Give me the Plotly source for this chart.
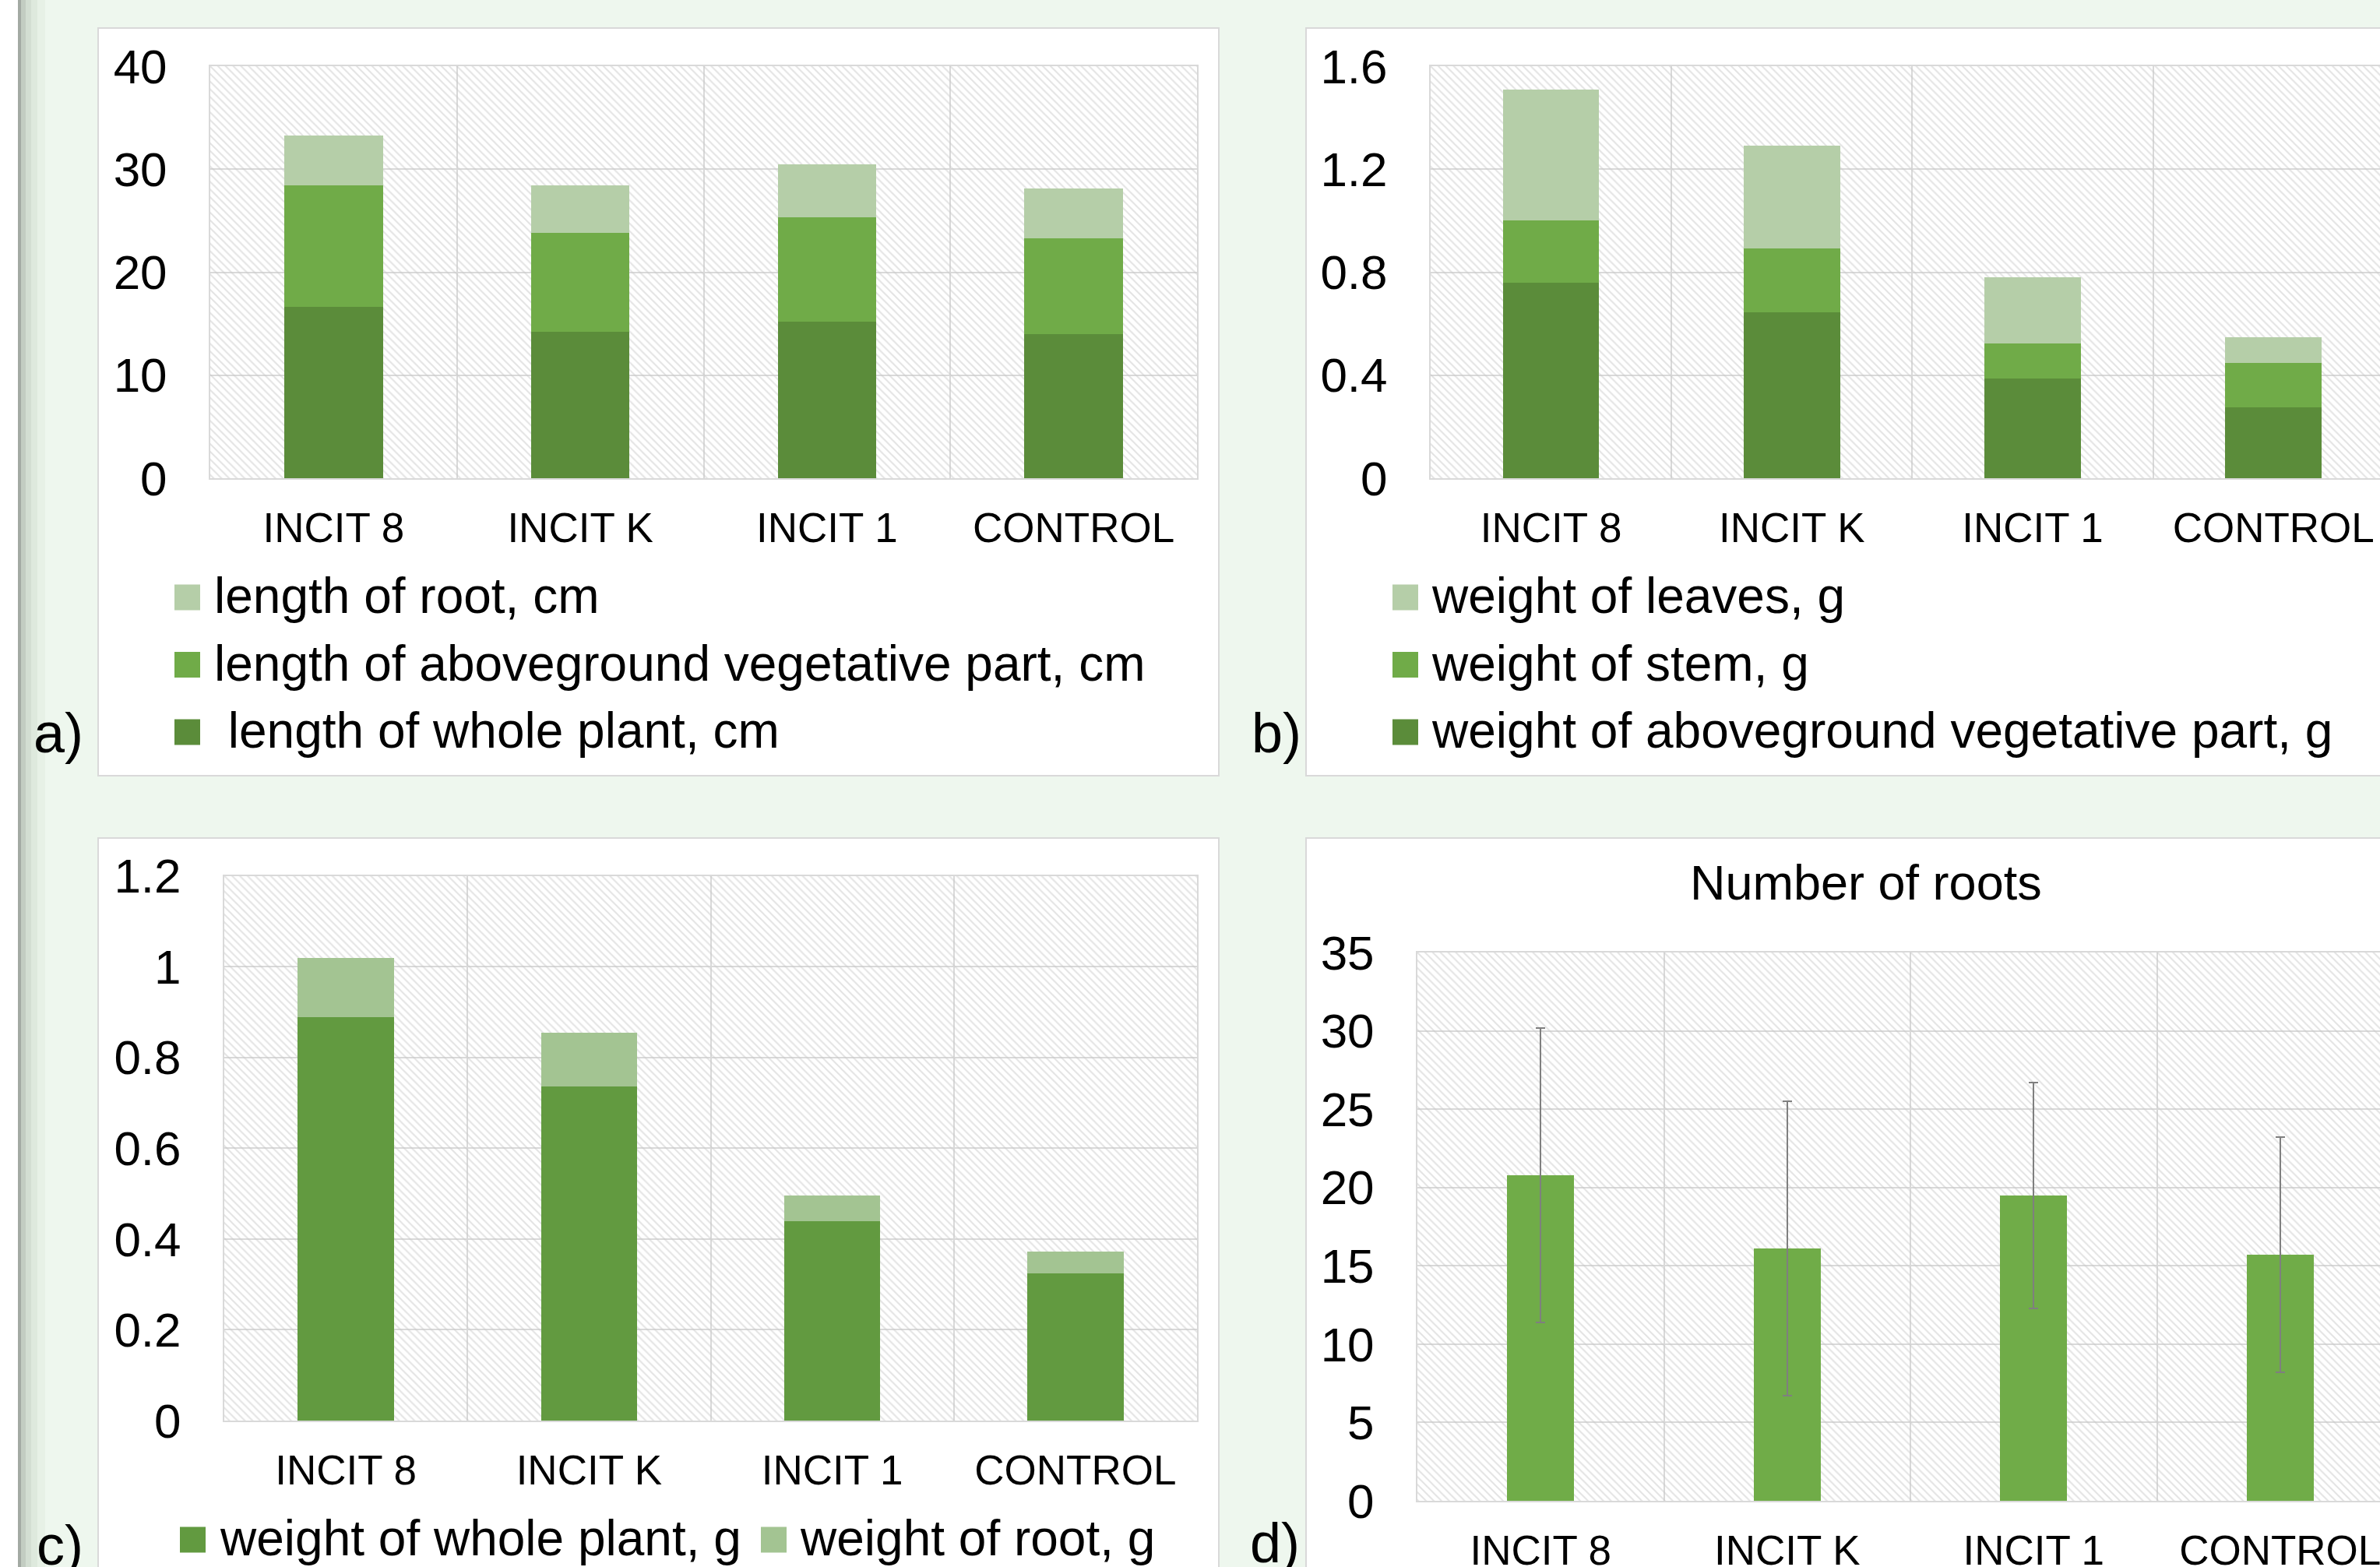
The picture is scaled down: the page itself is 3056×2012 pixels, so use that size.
import plotly.graph_objects as go

W, H = 3056, 2012
FONT = "Liberation Sans, Arial, sans-serif"

# ---------------- data ----------------
categories = ["INCIT 8", "INCIT K", "INCIT 1", "CONTROL"]

# panel a) lengths, cm (stacked segments)
a_whole_plant = [16.6, 14.2, 15.2, 14.0]
a_aboveground = [11.8, 9.6, 10.1, 9.3]
a_root = [4.9, 4.6, 5.2, 4.8]
a_ytick_vals = [0, 10, 20, 30, 40]
a_ytick_text = ["0", "10", "20", "30", "40"]

# panel b) weights, g (stacked segments)
b_aboveground = [0.758, 0.644, 0.388, 0.274]
b_stem = [0.242, 0.249, 0.135, 0.174]
b_leaves = [0.510, 0.398, 0.256, 0.099]
b_ytick_vals = [0, 0.4, 0.8, 1.2, 1.6]
b_ytick_text = ["0", "0.4", "0.8", "1.2", "1.6"]

# panel c) weights, g (stacked segments)
c_whole_plant = [0.888, 0.736, 0.439, 0.324]
c_root = [0.131, 0.119, 0.056, 0.049]
c_ytick_vals = [0, 0.2, 0.4, 0.6, 0.8, 1.0, 1.2]
c_ytick_text = ["0", "0.2", "0.4", "0.6", "0.8", "1", "1.2"]

# panel d) number of roots, mean +/- error
d_roots = [20.8, 16.1, 19.5, 15.7]
d_error = [9.4, 9.4, 7.2, 7.5]
d_ytick_vals = [0, 5, 10, 15, 20, 25, 30, 35]
d_ytick_text = ["0", "5", "10", "15", "20", "25", "30", "35"]

# legend / text labels
a_names = ["\u00a0length of whole plant, cm", "length of aboveground vegetative part, cm", "length of root, cm"]
b_names = ["weight of aboveground vegetative part, g", "weight of stem, g", "weight of leaves, g"]
c_names = ["weight of whole plant, g", "weight of root, g"]
d_title = "Number of roots"
panel_labels = ["a)", "b)", "c)", "d)"]

# ---------------- styles ----------------
DARK = "#5B8C3A"
MID = "#70AB48"
LIGHT = "#B5CEA8"
C_DARK = "#629A40"
C_LIGHT = "#A3C492"
D_COL = "#70AC48"
GRID = "#D9D9D9"
BG = "#EEF7EE"


def fx(p):
    return p / W


def fy(p):
    return 1 - p / H


# plot areas in pixels: (left, top, right, bottom), x-range end
plots = {
    "a": dict(box=(270, 85, 1537, 614), xend=3.5, mirror=True),
    "b": dict(box=(1837, 85, 3056, 614), xend=-0.5 + (3056 - 1837) / 309.2, mirror=False),
    "c": dict(box=(288, 1124.5, 1537, 1824), xend=3.5, mirror=True),
    "d": dict(box=(1820, 1223, 3056, 1927), xend=-0.5 + (3056 - 1820) / 316.5, mirror=False),
}
yranges = {"a": (a_ytick_vals, a_ytick_text), "b": (b_ytick_vals, b_ytick_text),
           "c": (c_ytick_vals, c_ytick_text), "d": (d_ytick_vals, d_ytick_text)}

fig = go.Figure()
layout_axes = {}

for i, key in enumerate(["a", "b", "c", "d"]):
    l, t, r, b = plots[key]["box"]
    dom_x = [fx(l), min(1.0, fx(r))]
    dom_y = [fy(b), fy(t)]
    n_base = 2 * i + 1
    n_data = 2 * i + 2
    bx = "x" if n_base == 1 else f"x{n_base}"
    by = "y" if n_base == 1 else f"y{n_base}"
    dx, dy = f"x{n_data}", f"y{n_data}"
    # hatched plot-area background (decorative)
    fig.add_trace(go.Scatter(
        x=[0, 1, 1, 0, 0], y=[0, 0, 1, 1, 0], xaxis=bx, yaxis=by,
        mode="none", fill="toself", fillcolor="rgba(0,0,0,0)",
        fillpattern=dict(shape="\\", fgcolor="#C8C8C8", size=7, solidity=0.28),
        hoverinfo="skip", showlegend=False))
    base_x_name = "xaxis" if n_base == 1 else f"xaxis{n_base}"
    base_y_name = "yaxis" if n_base == 1 else f"yaxis{n_base}"
    layout_axes[base_x_name] = dict(domain=dom_x, range=[0, 1], visible=False, fixedrange=True,
                                    anchor=by, automargin=False)
    layout_axes[base_y_name] = dict(domain=dom_y, range=[0, 1], visible=False, fixedrange=True,
                                    anchor=bx, automargin=False)
    tv, tt = yranges[key]
    layout_axes[f"xaxis{n_data}"] = dict(
        overlaying=bx, anchor=dy, domain=dom_x, type="category",
        categoryorder="array", categoryarray=categories,
        range=[-0.5, plots[key]["xend"]], tickson="boundaries",
        showgrid=True, gridcolor=GRID, gridwidth=2,
        showline=True, linecolor=GRID, linewidth=2, mirror=True,
        ticks="", tickangle=0, zeroline=False, fixedrange=True, automargin=False,
        tickfont=dict(family=FONT, size=53, color="black"),
        ticklabelstandoff=16)
    layout_axes[f"yaxis{n_data}"] = dict(
        overlaying=by, anchor=dx, domain=dom_y,
        range=[tv[0], tv[-1]], tickvals=tv, ticktext=tt,
        showgrid=True, gridcolor=GRID, gridwidth=2,
        showline=True, linecolor=GRID, linewidth=2, mirror=plots[key]["mirror"],
        ticks="", zeroline=False, fixedrange=True, automargin=False,
        tickfont=dict(family=FONT, size=62, color="black"),
        ticklabelstandoff=41)

# ---------------- bars ----------------
for vals, name, col in zip([a_whole_plant, a_aboveground, a_root], a_names, [DARK, MID, LIGHT]):
    fig.add_trace(go.Bar(x=categories, y=vals, name=name, marker=dict(color=col, line=dict(width=0)),
                         width=0.4, xaxis="x2", yaxis="y2", showlegend=False))
for vals, name, col in zip([b_aboveground, b_stem, b_leaves], b_names, [DARK, MID, LIGHT]):
    fig.add_trace(go.Bar(x=categories, y=vals, name=name, marker=dict(color=col, line=dict(width=0)),
                         width=0.4, xaxis="x4", yaxis="y4", showlegend=False))
for vals, name, col in zip([c_whole_plant, c_root], c_names, [C_DARK, C_LIGHT]):
    fig.add_trace(go.Bar(x=categories, y=vals, name=name, marker=dict(color=col, line=dict(width=0)),
                         width=0.396, xaxis="x6", yaxis="y6", showlegend=False))
fig.add_trace(go.Bar(x=categories, y=d_roots, name=d_title, marker=dict(color=D_COL, line=dict(width=0)),
                     width=0.272, xaxis="x8", yaxis="y8", showlegend=False,
                     error_y=dict(type="data", array=d_error, symmetric=True,
                                  color="#7F7F7F", thickness=2, width=6)))

# ---------------- decorations ----------------
shapes = []
annotations = []

# left page-edge shading
for x0, x1, col in [(0, 23, "#FFFFFF"), (23, 27, "#A3AAA3"), (27, 33, "#C3CDC2"),
                    (33, 40, "#D3DED2"), (40, 48, "#DEE9DD"), (48, 58, "#E7F1E6")]:
    shapes.append(dict(type="rect", xref="paper", yref="paper", x0=fx(x0), x1=fx(x1), y0=0, y1=1,
                       fillcolor=col, line=dict(width=0), layer="below"))

# white chart boxes
for (x0, y0, x1, y1) in [(126, 36, 1565, 996), (1677, 36, 3080, 996),
                         (126, 1076, 1565, 2040), (1677, 1076, 3080, 2040)]:
    shapes.append(dict(type="rect", xref="paper", yref="paper", x0=fx(x0), x1=fx(x1), y0=fy(y1), y1=fy(y0),
                       fillcolor="white", line=dict(color=GRID, width=2), layer="below"))

SW = 33


def legend_entry(xs, yc, col, text, xt):
    shapes.append(dict(type="rect", xref="paper", yref="paper",
                       x0=fx(xs), x1=fx(xs + SW), y0=fy(yc + SW / 2), y1=fy(yc - SW / 2),
                       fillcolor=col, line=dict(width=0), layer="above"))
    annotations.append(dict(x=fx(xt), y=fy(yc - 2), xref="paper", yref="paper", text=text,
                            showarrow=False, xanchor="left", yanchor="middle",
                            font=dict(family=FONT, size=64, color="black")))


rows = [767, 853.5, 940]
# a) legend (reversed order: top = last stacked)
for yc, col, name in zip(rows, [LIGHT, MID, DARK], a_names[::-1]):
    legend_entry(224, yc, col, name, 273)
# b) legend
for yc, col, name in zip(rows, [LIGHT, MID, DARK], b_names[::-1]):
    legend_entry(1788, yc, col, name, 1836)
# c) legend (horizontal)
legend_entry(231, 1977, C_DARK, c_names[0], 280)
legend_entry(977, 1977, C_LIGHT, c_names[1], 1025)

# d) title
annotations.append(dict(x=fx(2396), y=fy(1133), xref="paper", yref="paper", text=d_title,
                        showarrow=False, xanchor="center", yanchor="middle",
                        font=dict(family=FONT, size=63, color="black")))

# panel letters
for lab, (x, yc) in zip(panel_labels, [(41, 941), (1605, 941), (45, 1984), (1603, 1981)]):
    annotations.append(dict(x=fx(x), y=fy(yc), xref="paper", yref="paper", text=lab,
                            showarrow=False, xanchor="left", yanchor="middle",
                            font=dict(family=FONT, size=72, color="black")))

fig.update_layout(
    width=W, height=H, margin=dict(l=0, r=0, t=0, b=0, pad=0, autoexpand=False),
    paper_bgcolor=BG, plot_bgcolor="white",
    barmode="stack", showlegend=False, hovermode=False,
    font=dict(family=FONT, color="black"),
    shapes=shapes, annotations=annotations,
    **layout_axes,
)

fig.write_html("out.html", config={"displayModeBar": False},
               post_script="document.body.style.margin='0';")
